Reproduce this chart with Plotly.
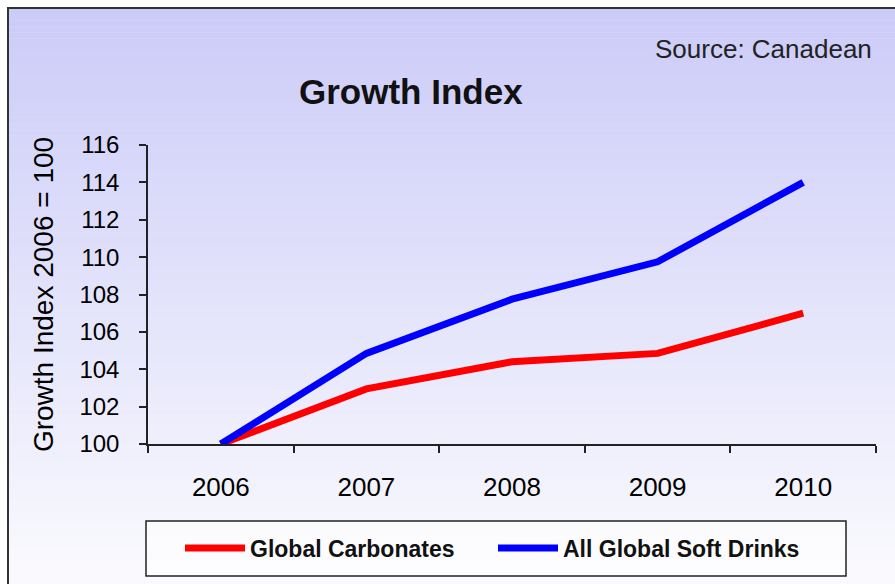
import plotly.graph_objects as go

years = ["2006", "2007", "2008", "2009", "2010"]
carbonates = [100.0, 102.95, 104.4, 104.85, 107.0]
soft_drinks = [100.0, 104.85, 107.75, 109.75, 114.0]
y_ticks = [100, 102, 104, 106, 108, 110, 112, 114, 116]

W, H = 895, 584
L, R, T, B = 148, 876, 145, 444  # plot area pixel bounds


def px(x):
    return (x - L) / (R - L)


def py(y):
    return (B - y) / (B - T)


fig = go.Figure()
fig.add_trace(go.Scatter(x=years, y=carbonates, mode="lines", name="Global Carbonates",
                         line=dict(color="#ff0000", width=7)))
fig.add_trace(go.Scatter(x=years, y=soft_drinks, mode="lines", name="All Global Soft Drinks",
                         line=dict(color="#0000ff", width=7)))

shapes = []
# vertical gradient background
n = 96
top_c = (203, 203, 248)
bot_c = (251, 251, 254)
y0, y1 = 8, 590
for i in range(n):
    a = y0 + (y1 - y0) * i / n
    b = y0 + (y1 - y0) * (i + 1) / n
    t = i / (n - 1)
    c = tuple(round(top_c[k] + (bot_c[k] - top_c[k]) * t) for k in range(3))
    shapes.append(dict(type="rect", xref="paper", yref="paper", layer="below",
                       x0=px(8), x1=px(900), y0=py(a), y1=py(b + 0.5),
                       fillcolor="rgb(%d,%d,%d)" % c, line=dict(width=0)))
# outer border
shapes.append(dict(type="rect", xref="paper", yref="paper", layer="below",
                   x0=px(8), x1=px(905), y0=py(8), y1=py(600),
                   line=dict(color="#333333", width=2)))
# legend box
shapes.append(dict(type="rect", xref="paper", yref="paper", layer="below",
                   x0=px(146), x1=px(846), y0=py(521), y1=py(576),
                   fillcolor="rgba(255,255,255,0.6)", line=dict(color="#222222", width=1.5)))

fig.update_layout(
    width=W, height=H,
    margin=dict(l=L, r=W - R, t=T, b=H - B),
    paper_bgcolor="white",
    plot_bgcolor="rgba(0,0,0,0)",
    font=dict(family="Liberation Sans, Arial", color="#000000"),
    shapes=shapes,
    showlegend=True,
    legend=dict(orientation="h", x=px(180), y=py(548), xanchor="left", yanchor="middle",
                bgcolor="rgba(0,0,0,0)", borderwidth=0, itemwidth=60,
                entrywidth=238, entrywidthmode="pixels",
                font=dict(size=23, family="Liberation Sans, Arial", color="#111111", weight="bold"),
                traceorder="normal"),
    annotations=[
        dict(text="<b>Growth Index</b>", xref="paper", yref="paper", x=px(411), y=py(92),
             xanchor="center", yanchor="middle", showarrow=False,
             font=dict(size=35, color="#111111")),
        dict(text="Source: Canadean", xref="paper", yref="paper", x=px(874), y=py(49),
             xanchor="right", yanchor="middle", showarrow=False,
             font=dict(size=26, color="#222222")),
    ],
)

fig.update_xaxes(type="category", range=[-0.5, 4.5], showline=True, linecolor="#222222", linewidth=1.5,
                 ticks="outside", tickson="boundaries", ticklen=7, tickcolor="#222222", tickwidth=1.5,
                 showgrid=False, zeroline=False, ticklabelstandoff=19,
                 tickfont=dict(size=26, color="#000000"))
fig.update_yaxes(range=[100, 116], tickvals=y_ticks, showline=True, linecolor="#222222", linewidth=1.5,
                 ticks="outside", ticklen=7, tickcolor="#222222", tickwidth=1.5,
                 showgrid=False, zeroline=False, ticklabelstandoff=15,
                 tickfont=dict(size=24, color="#000000"),
                 title=dict(text="Growth Index 2006 = 100", font=dict(size=28, color="#000000"), standoff=18))

fig.write_html("out.html")
